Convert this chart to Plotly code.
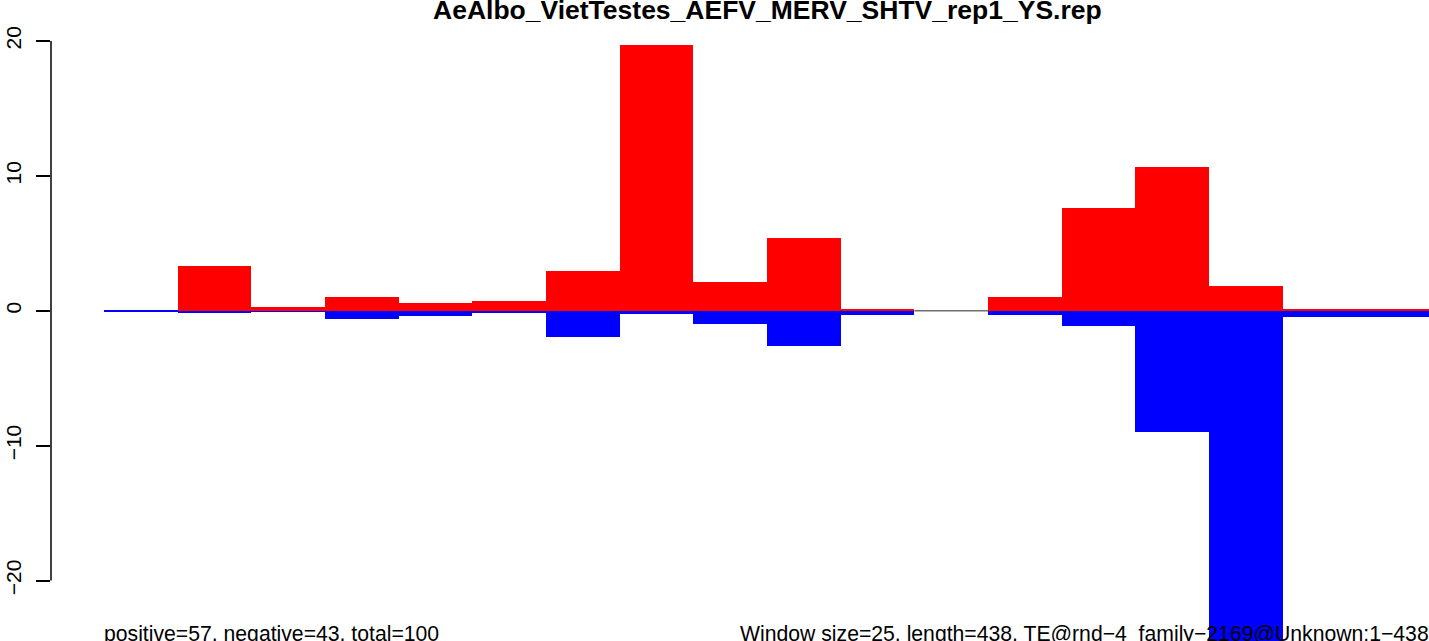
import plotly.graph_objects as go

TITLE = 'AeAlbo_VietTestes_AEFV_MERV_SHTV_rep1_YS.rep'
WINDOW = 25
window_start = [0, 25, 50, 75, 100, 125, 150, 175, 200, 225, 250, 275, 300, 325, 350, 375, 400, 425]
positive = [0, 3.3, 0.28, 1.0, 0.58, 0.7, 2.93, 19.7, 2.1, 5.38, 0.1, 0, 1.0, 7.6, 10.65, 1.82, 0.1, 0.1]
negative = [-0.07, -0.16, -0.12, -0.63, -0.39, -0.16, -1.94, -0.21, -0.98, -2.61, -0.31, 0, -0.31, -1.13, -9.0, -27.0, -0.46, -0.46]
y_ticks = [-20, -10, 0, 10, 20]
left_note = 'positive=57, negative=43, total=100'
right_note = 'Window size=25, length=438, TE@rnd\u22124_family\u22122169@Unknown:1\u2212438'

FONT = 'Liberation Sans, Arial, sans-serif'

centers = [s + WINDOW / 2 for s in window_start]

fig = go.Figure()

# negative counts first, positive drawn on top
fig.add_trace(go.Bar(x=centers, y=negative, width=WINDOW,
                     marker=dict(color='#0000ff', line=dict(width=0)),
                     showlegend=False))
fig.add_trace(go.Bar(x=centers, y=positive, width=WINDOW,
                     marker=dict(color='#ff0000', line=dict(width=0)),
                     showlegend=False))

# windows with no hits at all get a grey zero segment
for s, p, n in zip(window_start, positive, negative):
    if p == 0 and n == 0:
        fig.add_trace(go.Scatter(x=[s, s + WINDOW], y=[0, 0], mode='lines',
                                 line=dict(color='#6e6e6e', width=1.5),
                                 showlegend=False, hoverinfo='skip'))

# R-style axis line covering only the tick span
fig.add_shape(type='line', xref='paper', yref='y', x0=0, x1=0,
              y0=min(y_ticks), y1=max(y_ticks),
              line=dict(color='black', width=1.5))

fig.add_annotation(text='<b>' + TITLE + '</b>', xref='paper', yref='paper',
                   x=0.5196, y=0.985, xanchor='center', yanchor='middle',
                   showarrow=False, font=dict(family=FONT, size=26.5, color='black'))
fig.add_annotation(text=left_note, xref='x', yref='paper',
                   x=0, y=0.0115, xanchor='left', yanchor='middle', xshift=-2,
                   showarrow=False, font=dict(family=FONT, size=21.2, color='black'))
fig.add_annotation(text=right_note, xref='paper', yref='paper',
                   x=0.5, y=0.0115, xanchor='left', yanchor='middle', xshift=-2,
                   showarrow=False, font=dict(family=FONT, size=21.2, color='black'))

fig.update_layout(
    width=1429, height=641,
    margin=dict(l=51, r=0, t=0, b=0),
    paper_bgcolor='white', plot_bgcolor='white',
    barmode='overlay', bargap=0,
    font=dict(family=FONT, size=21, color='black'),
    xaxis=dict(visible=False, range=[-18, 449.66], automargin=False),
    yaxis=dict(range=[-24.48, 23.04], tickvals=y_ticks,
               ticktext=[str(v).replace('-', '\u2212') for v in y_ticks],
               ticks='outside', ticklen=14, tickwidth=1.5, tickcolor='black',
               tickangle=-90, ticklabelstandoff=7, automargin=False,
               showgrid=False, zeroline=False, showline=False,
               tickfont=dict(family=FONT, size=21, color='black')),
)

fig.write_html('out.html', config={'displayModeBar': False},
               post_script="document.body.style.margin='0';")
